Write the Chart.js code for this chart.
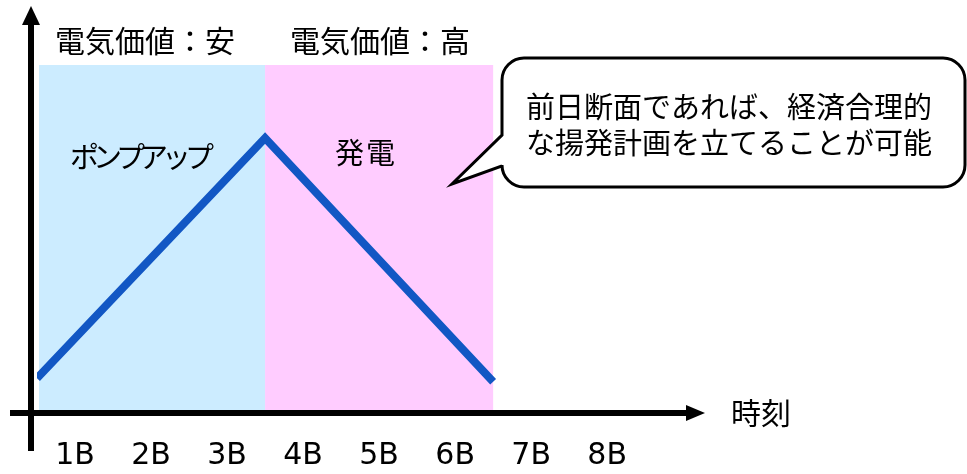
<!DOCTYPE html>
<html lang="ja">
<head>
<meta charset="utf-8">
<script src="https://cdn.jsdelivr.net/npm/chart.js@4"></script>
<style>
  html, body { margin: 0; padding: 0; background: #fff; }
  #storageChart { display: block; }
</style>
</head>
<body>
<canvas id="storageChart" width="967" height="474"></canvas>
<script>
// time blocks along the x axis
const blockLabels = ['1B', '2B', '3B', '4B', '5B', '6B', '7B', '8B'];
const blockTicks = [0.5, 1.5, 2.5, 3.5, 4.5, 5.5, 6.5, 7.5];

// reservoir level: pump up while cheap, generate while expensive
const levelX = [0, 3, 6];
const levelY = [10, 79, 9];

// price bands
const bandFrom = [0, 3];
const bandTo = [3, 6];
const bandColors = ['#CCECFF', '#FFCCFF'];
const bandTitles = ['電気価値：安', '電気価値：高'];
const bandNotes = ['ポンプアップ', '発電'];

const calloutLines = ['前日断面であれば、経済合理的', 'な揚発計画を立てることが可能'];
const jpFont = '"Noto Sans CJK JP", "Noto Sans", sans-serif';

const sketchPlugin = {
    id: 'sketch',
    beforeDatasetsDraw(chart) {
        const { ctx, chartArea, scales: { x, y } } = chart;
        ctx.save();
        bandFrom.forEach((from, i) => {
            const left = x.getPixelForValue(from) + (i === 0 ? 2 : 0);
            const right = x.getPixelForValue(bandTo[i]);
            ctx.fillStyle = bandColors[i];
            ctx.fillRect(left, chartArea.top, right - left, y.getPixelForValue(0) - chartArea.top);
        });
        ctx.restore();
    },
    afterDatasetsDraw(chart) {
        const { ctx, chartArea } = chart;
        const axisY = chartArea.bottom;
        const axisX = chartArea.left - 6;
        ctx.save();

        // axes with arrow heads
        ctx.fillStyle = '#000';
        ctx.fillRect(axisX - 3, 22, 6, 451 - 22);
        ctx.beginPath();
        ctx.moveTo(axisX, 6);
        ctx.lineTo(axisX + 9, 25);
        ctx.lineTo(axisX - 9, 25);
        ctx.closePath();
        ctx.fill();
        ctx.fillRect(10, axisY - 3, 680, 6);
        ctx.beginPath();
        ctx.moveTo(705, axisY);
        ctx.lineTo(686, axisY - 8);
        ctx.lineTo(686, axisY + 8);
        ctx.closePath();
        ctx.fill();

        ctx.textBaseline = 'middle';
        ctx.textAlign = 'left';
        ctx.font = '30px ' + jpFont;
        ctx.fillText(bandTitles[0], 55, 41);
        ctx.fillText(bandTitles[1], 290, 41);
        ctx.fillText('時刻', 731, 413);

        ctx.font = '29px ' + jpFont;
        ctx.letterSpacing = '-6px';
        ctx.fillText(bandNotes[0], 70, 157);
        ctx.letterSpacing = '2px';
        ctx.fillText(bandNotes[1], 335, 153);
        ctx.letterSpacing = '0px';

        // speech bubble
        const bl = 502, bt = 58, br = 965, bb = 187, r = 22;
        ctx.beginPath();
        ctx.moveTo(bl + r, bt);
        ctx.lineTo(br - r, bt);
        ctx.arcTo(br, bt, br, bt + r, r);
        ctx.lineTo(br, bb - r);
        ctx.arcTo(br, bb, br - r, bb, r);
        ctx.lineTo(bl + r, bb);
        ctx.arcTo(bl, bb, bl, bb - r, r);
        ctx.lineTo(bl, 166);
        ctx.lineTo(452, 184);
        ctx.lineTo(bl, 135);
        ctx.lineTo(bl, bt + r);
        ctx.arcTo(bl, bt, bl + r, bt, r);
        ctx.closePath();
        ctx.fillStyle = '#fff';
        ctx.fill();
        ctx.lineWidth = 3;
        ctx.lineJoin = 'miter';
        ctx.strokeStyle = '#000';
        ctx.stroke();

        ctx.fillStyle = '#000';
        ctx.font = '29px ' + jpFont;
        ctx.fillText(calloutLines[0], 526, 107);
        ctx.fillText(calloutLines[1], 526, 143);
        ctx.restore();
    }
};

new Chart(document.getElementById('storageChart').getContext('2d'), {
    type: 'line',
    data: {
        datasets: [{
            data: levelX.map((v, i) => ({ x: v, y: levelY[i] })),
            borderColor: '#1257C4',
            borderWidth: 8,
            borderJoinStyle: 'miter',
            pointRadius: 0,
            tension: 0,
            fill: false
        }]
    },
    options: {
        responsive: false,
        animation: false,
        layout: { padding: { left: 37, right: 261, top: 65, bottom: 0 } },
        plugins: { legend: { display: false }, tooltip: { enabled: false } },
        scales: {
            x: {
                type: 'linear',
                min: 0,
                max: 8.8,
                grid: { display: false, drawTicks: false },
                border: { display: false },
                afterBuildTicks: (scale) => { scale.ticks = blockTicks.map(v => ({ value: v })); },
                afterFit: (scale) => { scale.height = 61; },
                ticks: {
                    padding: 25,
                    color: '#000',
                    maxRotation: 0,
                    autoSkip: false,
                    font: { family: '"DejaVu Sans"', size: 30 },
                    callback: (value, index) => blockLabels[index]
                }
            },
            y: {
                display: false,
                min: 0,
                max: 100
            }
        }
    },
    plugins: [sketchPlugin]
});
</script>
</body>
</html>
